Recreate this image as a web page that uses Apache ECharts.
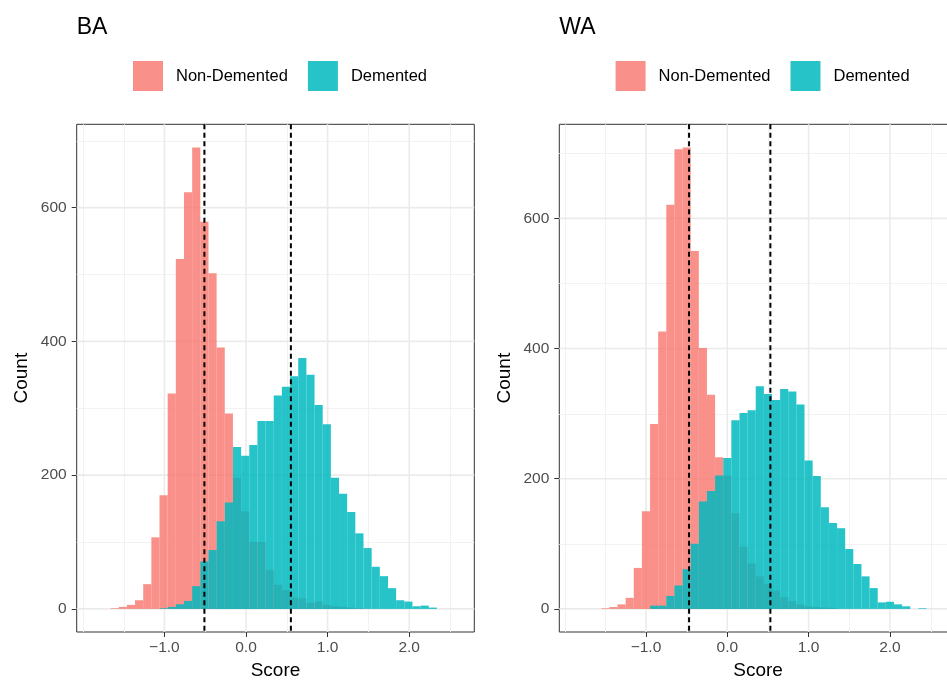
<!DOCTYPE html>
<html><head><meta charset="utf-8">
<script src="https://cdn.jsdelivr.net/npm/echarts@6/dist/echarts.min.js"></script>
<style>html,body{margin:0;padding:0;background:#fff}#c{width:947px;height:682px}</style>
</head><body><div id="c"></div>
<script>
// ---------------- data ----------------
const PANELS = ['BA', 'WA'];
const GROUPS = ['Non-Demented', 'Demented'];
const BIN_WIDTH = 0.1;

const BA_nonDemented_edges = [-1.66,-1.56,-1.46,-1.36,-1.26,-1.16,-1.06,-0.96,-0.86,-0.76,-0.66,-0.56,-0.46,-0.36,-0.26,-0.16,-0.06,0.04,0.14,0.24,0.34,0.44,0.54,0.64,0.74,0.84,0.94,1.04,1.14,1.24,1.34];
const BA_nonDemented_counts = [1,3,6,13,37,107,170,322,523,623,690,579,502,391,292,196,146,100,100,58,36,28,17,16,9,11,6,4,3,2,1];
const BA_demented_edges = [-1.06,-0.96,-0.86,-0.76,-0.66,-0.56,-0.46,-0.36,-0.26,-0.16,-0.06,0.04,0.14,0.24,0.34,0.44,0.54,0.64,0.74,0.84,0.94,1.04,1.14,1.24,1.34,1.44,1.54,1.64,1.74,1.84,1.94,2.04,2.14,2.24];
const BA_demented_counts = [1,3,7,12,34,71,88,131,159,242,229,245,281,281,319,332,348,375,350,305,276,196,172,145,113,91,63,49,31,13,11,4,5,2];

const WA_nonDemented_edges = [-1.55,-1.45,-1.35,-1.25,-1.15,-1.05,-0.95,-0.85,-0.75,-0.65,-0.55,-0.45,-0.35,-0.25,-0.15,-0.05,0.05,0.15,0.25,0.35,0.45,0.55,0.65,0.75,0.85,0.95,1.05,1.15,1.25];
const WA_nonDemented_counts = [1,3,7,17,63,150,284,426,621,706,709,550,401,329,233,205,147,96,70,50,38,28,18,12,7,4,3,2,1];
const WA_demented_edges = [-0.95,-0.85,-0.75,-0.65,-0.55,-0.45,-0.35,-0.25,-0.15,-0.05,0.05,0.15,0.25,0.35,0.45,0.55,0.65,0.75,0.85,0.95,1.05,1.15,1.25,1.35,1.45,1.55,1.65,1.75,1.85,1.95,2.05,2.15,2.25,2.35];
const WA_demented_counts = [5,5,20,36,61,100,165,181,205,232,290,301,305,342,330,321,338,334,314,228,204,156,132,124,92,69,50,32,10,11,7,4,0,1];

const BA_vlines = [-0.51, 0.55];
const WA_vlines = [-0.47, 0.53];

const X_MAJOR = [-1, 0, 1, 2];
const X_MINOR = [-2, -1.5, -0.5, 0.5, 1.5, 2.5];
const Y_MAJOR = [0, 200, 400, 600];
const Y_MINOR = [100, 300, 500, 700];

const X_RANGE = [[-2.075, 2.798], [-2.066, 2.824]];
const Y_RANGE = [[-34.5, 724.5], [-35.45, 744.45]];

// ---------------- styling ----------------
const FONT = "'Liberation Sans', Arial, Helvetica, sans-serif";
const PINK = 'rgba(248,118,109,0.8)';
const CYAN = 'rgba(0,185,190,0.85)';
const GRID_POS = [{left: 76.7, top: 124.3, width: 397.6, height: 507.7},
                  {left: 559.3, top: 124.3, width: 397.6, height: 507.7}];

function histSeries(name, edges, counts, idx, color) {
  return {
    type: 'custom', name: name, xAxisIndex: idx, yAxisIndex: idx, z: 3,
    itemStyle: {color: color},
    data: edges.map((e, i) => [e, counts[i]]),
    renderItem: function (params, api) {
      const x0 = api.value(0), c = api.value(1);
      if (!c) return null;
      const p0 = api.coord([x0, c]);
      const p1 = api.coord([x0 + BIN_WIDTH, 0]);
      return {type: 'rect', shape: {x: p0[0], y: p0[1], width: p1[0] - p0[0], height: p1[1] - p0[1]},
              style: {fill: color}};
    }
  };
}

function lineSeries(idx, values, dir, color, width, dash, z) {
  return {
    type: 'custom', xAxisIndex: idx, yAxisIndex: idx, silent: true, z: z,
    data: values.map(v => [v]),
    renderItem: function (params, api) {
      const cs = params.coordSys;
      const v = api.value(0);
      let shape;
      if (dir === 'x') {
        const p = api.coord([v, 0]);
        const x = width < 1.5 ? Math.round(p[0]) + 0.5 : p[0];
        shape = {x1: x, y1: cs.y, x2: x, y2: cs.y + cs.height};
      } else {
        const p = api.coord([0, v]);
        const y = width < 1.5 ? Math.round(p[1]) + 0.5 : p[1];
        shape = {x1: cs.x, y1: y, x2: cs.x + cs.width, y2: y};
      }
      return {type: 'line', shape: shape, style: {stroke: color, lineWidth: width, lineDash: dash || null}};
    }
  };
}

const data = [
  {nd: [BA_nonDemented_edges, BA_nonDemented_counts], d: [BA_demented_edges, BA_demented_counts], v: BA_vlines},
  {nd: [WA_nonDemented_edges, WA_nonDemented_counts], d: [WA_demented_edges, WA_demented_counts], v: WA_vlines}
];

const grids = [], xAxes = [], yAxes = [], series = [], titles = [], legends = [];
PANELS.forEach((p, i) => {
  grids.push(Object.assign({show: true, borderColor: '#333333', borderWidth: 1, backgroundColor: '#ffffff',
                            containLabel: false, outerBoundsMode: 'none'}, GRID_POS[i]));
  titles.push({text: p, left: GRID_POS[i].left, top: 16, padding: 0,
               textStyle: {fontFamily: FONT, fontSize: 23, fontWeight: 'normal', color: '#000'}});
  legends.push({left: GRID_POS[i].left + 56.3, top: 61, padding: 0, itemWidth: 30, itemHeight: 30, itemGap: 20,
                icon: 'rect', selectedMode: false, data: GROUPS,
                textStyle: {fontFamily: FONT, fontSize: 16.5, color: '#000', padding: [0, 0, 0, 8]}});
  xAxes.push({gridIndex: i, type: 'value', min: X_RANGE[i][0], max: X_RANGE[i][1],
    axisLine: {show: false, onZero: false}, splitLine: {show: false},
    axisTick: {show: true, customValues: X_MAJOR, length: 5, lineStyle: {color: '#333333', width: 1}},
    axisLabel: {customValues: X_MAJOR, margin: 8, fontFamily: FONT, fontSize: 15.5, color: '#4d4d4d',
                formatter: v => (v < 0 ? '\u2212' : '') + Math.abs(v).toFixed(1)},
    name: 'Score', nameLocation: 'middle', nameGap: 20,
    nameTextStyle: {fontFamily: FONT, fontSize: 19, color: '#000'}});
  yAxes.push({gridIndex: i, type: 'value', min: Y_RANGE[i][0], max: Y_RANGE[i][1],
    axisLine: {show: false, onZero: false}, splitLine: {show: false},
    axisTick: {show: true, customValues: Y_MAJOR, length: 5, lineStyle: {color: '#333333', width: 1}},
    axisLabel: {customValues: Y_MAJOR, margin: 10, fontFamily: FONT, fontSize: 15.5, color: '#4d4d4d'},
    name: 'Count', nameLocation: 'middle', nameGap: 45,
    nameTextStyle: {fontFamily: FONT, fontSize: 19, color: '#000'}});
  series.push(lineSeries(i, X_MINOR, 'x', '#f2f2f2', 1, null, 1));
  series.push(lineSeries(i, Y_MINOR, 'y', '#f2f2f2', 1, null, 1));
  series.push(lineSeries(i, X_MAJOR, 'x', '#ebebeb', 1.6, null, 1));
  series.push(lineSeries(i, Y_MAJOR, 'y', '#ebebeb', 1.6, null, 1));
  series.push(histSeries(GROUPS[0], data[i].nd[0], data[i].nd[1], i, PINK));
  series.push(histSeries(GROUPS[1], data[i].d[0], data[i].d[1], i, CYAN));
  series.push(lineSeries(i, data[i].v, 'x', '#000000', 2, [5, 3.5], 5));
});

const chart = echarts.init(document.getElementById('c'), null, {renderer: 'canvas'});
chart.setOption({
  animation: false,
  backgroundColor: '#ffffff',
  title: titles, legend: legends, grid: grids, xAxis: xAxes, yAxis: yAxes, series: series
});
</script>
</body></html>
